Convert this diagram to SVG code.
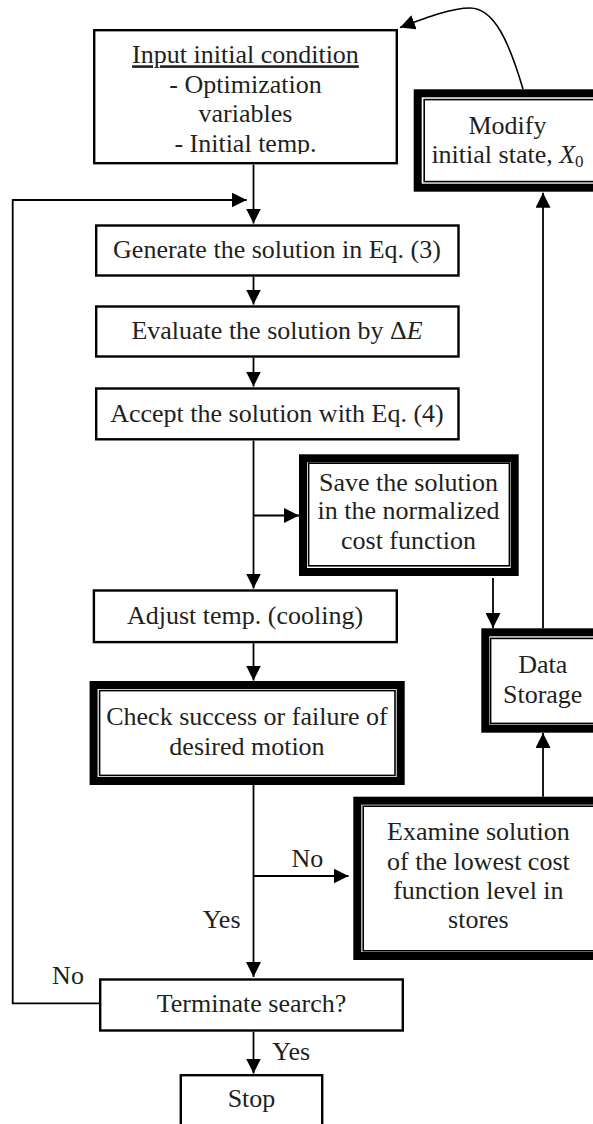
<svg xmlns="http://www.w3.org/2000/svg" width="593" height="1124" viewBox="0 0 593 1124">
<style>
text{font-family:"Liberation Serif","Times New Roman",serif;font-size:26px;fill:#231f20;text-anchor:middle}
.box{fill:#fff;stroke:#000;stroke-width:2.4}
.thick{fill:#fff;stroke:#000;stroke-width:8}
.thin{fill:none;stroke:#000;stroke-width:1.6}
.con{fill:none;stroke:#000;stroke-width:1.8;marker-end:url(#arr)}
</style>
<defs>
<marker id="arr" markerUnits="userSpaceOnUse" markerWidth="16" markerHeight="15" refX="15" refY="7.5" orient="auto">
<path d="M0,0 L15,7.5 L0,15 z" fill="#000"/>
</marker>
<clipPath id="inclip"><rect x="90" y="20" width="320" height="134"/></clipPath>
</defs>
<rect width="593" height="1124" fill="#fff"/>
<g id="connectors">
<line class="con" x1="253.5" y1="164.5" x2="253.5" y2="223.5"/>
<polyline class="con" points="99,1003.3 12.7,1003.3 12.7,200 246.7,200"/>
<line class="con" x1="253.5" y1="276.7" x2="253.5" y2="304.5"/>
<line class="con" x1="253.5" y1="357.5" x2="253.5" y2="386.5"/>
<line class="con" x1="253.5" y1="440.5" x2="253.5" y2="588.5"/>
<polyline class="con" points="253.5,515.5 299,515.5"/>
<line class="con" x1="253.5" y1="643.3" x2="253.5" y2="680.5"/>
<line class="con" x1="253.5" y1="785" x2="253.5" y2="977"/>
<polyline class="con" points="253.5,876 348.5,876"/>
<line class="con" x1="253.5" y1="1031.7" x2="253.5" y2="1073.5"/>
<line class="con" x1="493" y1="578" x2="493" y2="628"/>
<line class="con" x1="543" y1="796.7" x2="543" y2="733"/>
<line class="con" x1="543" y1="628.3" x2="543" y2="192.7"/>
<path class="con" style="stroke-width:1.6" d="M523,89 C510,45 495,8 470,8 C452,8 428,17 400,27.5"/>
<text x="307.3" y="866.7">No</text>
<text x="221.6" y="928.3">Yes</text>
<text x="68" y="984">No</text>
<text x="291.2" y="1060">Yes</text>
</g>
<g id="input">
<rect class="box" x="94.2" y="30.2" width="302.6" height="133"/>
<g clip-path="url(#inclip)">
<text x="245.5" y="63.3" text-decoration="underline">Input initial condition</text>
<text x="245.5" y="92.7">- Optimization</text>
<text x="245.5" y="121.7">variables</text>
<text x="245.5" y="151.7">- Initial temp.</text>
</g>
</g>
<g id="modify">
<rect class="thick" x="417.7" y="93.3" width="190" height="94.4"/>
<rect class="thin" x="424.2" y="99.6" width="180" height="82"/>
<text x="507.5" y="134.3">Modify</text>
<text x="507.5" y="163.3">initial state, <tspan font-style="italic">X</tspan><tspan font-size="17" dy="4">0</tspan></text>
</g>
<g id="generate">
<rect class="box" x="96.2" y="225.5" width="362.3" height="50"/>
<text x="277" y="257.7">Generate the solution in Eq. (3)</text>
</g>
<g id="evaluate">
<rect class="box" x="96.2" y="306.5" width="362.3" height="50"/>
<text x="277" y="339">Evaluate the solution by Δ<tspan font-style="italic">E</tspan></text>
</g>
<g id="accept">
<rect class="box" x="96.2" y="388.5" width="362.3" height="50.8"/>
<text x="277" y="421.7">Accept the solution with Eq. (4)</text>
</g>
<g id="save">
<rect class="thick" x="303" y="458.3" width="211.7" height="113.7"/>
<rect class="thin" x="308.6" y="463.2" width="200.8" height="102.6"/>
<text x="408.5" y="490.7">Save the solution</text>
<text x="408.5" y="519.3">in the normalized</text>
<text x="408.5" y="548.7">cost function</text>
</g>
<g id="adjust">
<rect class="box" x="93.9" y="590.5" width="302.9" height="51.6"/>
<text x="245" y="624">Adjust temp. (cooling)</text>
</g>
<g id="storage">
<rect class="thick" x="485.3" y="632.3" width="120" height="96.4"/>
<rect class="thin" x="490.6" y="638.4" width="112" height="85"/>
<text x="542.7" y="673.3">Data</text>
<text x="542.7" y="702.7">Storage</text>
</g>
<g id="check">
<rect class="thick" x="93.6" y="685" width="307.1" height="96"/>
<rect class="thin" x="99.6" y="690.6" width="295.4" height="84.8"/>
<text x="247" y="725">Check success or failure of</text>
<text x="247" y="755">desired motion</text>
</g>
<g id="examine">
<rect class="thick" x="357.3" y="800.7" width="255" height="155.3"/>
<rect class="thin" x="363.2" y="806.2" width="245" height="144.6"/>
<text x="478.4" y="840">Examine solution</text>
<text x="478.4" y="870">of the lowest cost</text>
<text x="478.4" y="899.3">function level in</text>
<text x="478.4" y="928.3">stores</text>
</g>
<g id="terminate">
<rect class="box" x="100.2" y="979.5" width="302.6" height="51"/>
<text x="251.5" y="1011.7">Terminate search?</text>
</g>
<g id="stop">
<rect class="box" x="180.8" y="1075.2" width="141.4" height="60"/>
<text x="251.5" y="1106.7">Stop</text>
</g>
</svg>
